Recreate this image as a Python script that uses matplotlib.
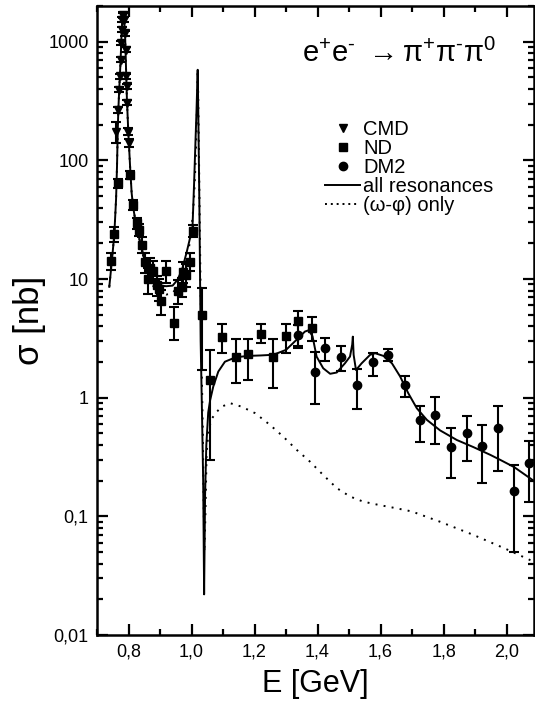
"""
e+e- -> pi+ pi- pi0 cross section with the omega / phi region and the
high-energy tail, CMD / ND / DM2 data and the model curves.

Output:
    out.png
"""

import matplotlib
matplotlib.use("Agg")
import matplotlib.pyplot as plt
import matplotlib.lines as mlines
from matplotlib.ticker import FixedLocator, MultipleLocator, NullFormatter
import numpy as np

plt.rcParams["font.family"] = ["Liberation Sans", "DejaVu Sans"]
plt.rcParams["mathtext.fontset"] = "custom"
plt.rcParams["mathtext.rm"] = "Liberation Sans"
plt.rcParams["mathtext.it"] = "Liberation Sans:italic"
plt.rcParams["mathtext.sf"] = "Liberation Sans"

# ── Data ──────────────────────────────────────────────────────────────────────

# CMD (omega peak)
cmd_E     = [0.759, 0.7677, 0.7705, 0.7725, 0.775, 0.7773, 0.779, 0.7805, 0.7815,
             0.7835, 0.7857, 0.7889, 0.7905, 0.7931, 0.7943, 0.7958, 0.7994, 0.801]
cmd_sigma = [175, 267, 394, 510, 705, 975, 1262, 1534, 1690,
             1650, 1534, 1180, 857, 510, 420, 306, 175, 140]
cmd_err   = [35, 15, 20, 25, 35, 45, 60, 70, 80,
             80, 70, 60, 45, 25, 20, 15, 12, 10]

# ND
nd_E     = [0.744, 0.754, 0.766, 0.805, 0.815, 0.826, 0.834, 0.842, 0.852, 0.861,
            0.868, 0.879, 0.889, 0.897, 0.903, 0.919, 0.944, 0.958, 0.969, 0.974,
            0.984, 0.995, 1.004, 1.034, 1.059, 1.098, 1.140, 1.180, 1.221, 1.260,
            1.300, 1.339, 1.381]
nd_sigma = [14.2, 24, 64, 76, 42, 29.6, 26, 19.4, 13.8, 10.0,
            12.4, 11.8, 8.9, 8.3, 6.5, 11.6, 4.25, 7.9, 8.6, 11.4,
            10.9, 14.0, 25.6, 5.0, 1.41, 3.24, 2.22, 2.34, 3.45, 2.22,
            3.32, 4.39, 3.86]
nd_lo    = [12.0, 20.5, 58, 70, 38, 26.5, 23, 16.5, 11.2, 7.5,
            9.8, 9.8, 7.2, 6.5, 5.0, 9.2, 3.05, 6.2, 7.0, 9.2,
            8.6, 11.8, 22.5, 1.71, 0.30, 2.37, 1.32, 1.41, 2.88, 1.20,
            2.40, 2.61, 3.0]
nd_hi    = [16.5, 27.5, 70, 82, 46, 33, 29, 22.5, 16.5, 12.5,
            15.0, 14.1, 10.6, 10.0, 8.1, 14.1, 5.8, 9.8, 10.2, 14.0,
            13.4, 16.5, 28.8, 8.4, 2.53, 4.19, 3.11, 3.11, 4.19, 3.11,
            4.19, 5.42, 4.77]

# DM2
dm2_E     = [1.339, 1.392, 1.424, 1.474, 1.524, 1.575, 1.625, 1.676,
             1.724, 1.773, 1.824, 1.874, 1.923, 1.974, 2.024, 2.072]
dm2_sigma = [3.39, 1.66, 2.61, 2.20, 1.28, 1.98, 2.30, 1.28,
             0.65, 0.716, 0.387, 0.50, 0.394, 0.553, 0.164, 0.284]
dm2_lo    = [2.75, 0.89, 2.04, 1.69, 0.80, 1.51, 2.05, 1.02,
             0.427, 0.41, 0.209, 0.293, 0.19, 0.243, 0.0497, 0.133]
dm2_hi    = [4.1, 2.45, 3.18, 2.74, 1.74, 2.40, 2.58, 1.53,
             0.853, 1.01, 0.553, 0.70, 0.59, 0.853, 0.271, 0.432]

# model: all resonances
fit_E = [0.739, 0.747, 0.755, 0.7605, 0.7635, 0.7657, 0.7677, 0.771, 0.775, 0.778,
         0.7815, 0.7835, 0.786, 0.789, 0.792, 0.795, 0.7995, 0.805, 0.810, 0.815,
         0.824, 0.832, 0.840, 0.848, 0.856, 0.865, 0.880, 0.900, 0.920, 0.940,
         0.955, 0.970, 0.985, 0.995, 1.003, 1.008, 1.012, 1.016, 1.0196, 1.022,
         1.025, 1.029, 1.033, 1.037, 1.040, 1.043, 1.047, 1.053, 1.059, 1.069,
         1.085, 1.106, 1.140, 1.180, 1.220, 1.260, 1.300, 1.339, 1.360, 1.372,
         1.384, 1.397, 1.418, 1.440, 1.461, 1.487, 1.503, 1.510, 1.512, 1.5145,
         1.522, 1.540, 1.567, 1.583, 1.609, 1.636, 1.662, 1.688, 1.715, 1.747,
         1.789, 1.842, 1.895, 1.948, 1.979, 2.024, 2.09]
fit_sigma = [8.6, 14, 24, 47, 89, 170, 267, 420, 705, 1180,
             1650, 1700, 1500, 1180, 617, 324, 170, 89, 53, 40,
             28.6, 23, 19.4, 15.5, 12.7, 10.5, 9.3, 8.8, 8.7, 8.8,
             9.8, 12, 17, 22, 27, 62, 130, 270, 580, 200,
             40, 3.0, 0.8, 0.2, 0.022, 0.15, 0.4, 0.75, 0.95, 1.24,
             1.66, 2.01, 2.19, 2.25, 2.27, 2.30, 2.53, 3.18, 3.61, 3.7,
             3.3, 2.22, 1.77, 1.59, 1.63, 1.95, 2.22, 2.8, 3.27, 2.3,
             1.71, 1.95, 2.30, 2.37, 2.25, 1.95, 1.51, 1.09, 0.815, 0.65,
             0.53, 0.44, 0.383, 0.33, 0.30, 0.26, 0.196]

# model: (omega-phi) only
wphi_E = [0.739, 0.747, 0.755, 0.7605, 0.7635, 0.7657, 0.7677, 0.771, 0.775, 0.778,
          0.7815, 0.7835, 0.786, 0.789, 0.792, 0.795, 0.7995, 0.805, 0.810, 0.815,
          0.824, 0.832, 0.840, 0.848, 0.856, 0.865, 0.880, 0.900, 0.920, 0.940,
          0.960, 0.975, 0.990, 1.000, 1.008, 1.014, 1.018, 1.0196, 1.021, 1.024,
          1.028, 1.032, 1.036, 1.039, 1.041, 1.044, 1.048, 1.055, 1.065, 1.080,
          1.096, 1.122, 1.159, 1.202, 1.249, 1.291, 1.334, 1.376, 1.418, 1.461,
          1.503, 1.545, 1.593, 1.650, 1.699, 1.789, 1.895, 2.0, 2.09]
wphi_sigma = [8.6, 14, 24, 47, 89, 170, 267, 420, 705, 1180,
              1650, 1700, 1500, 1180, 617, 324, 170, 89, 53, 40,
              28.6, 23, 19.0, 15.0, 12.2, 10.0, 8.6, 7.8, 7.4, 7.6,
              9.0, 11.5, 17, 26, 48, 115, 340, 570, 400, 90,
              12, 2.0, 0.5, 0.1, 0.05, 0.1, 0.35, 0.55, 0.67, 0.76,
              0.84, 0.90, 0.84, 0.74, 0.59, 0.47, 0.363, 0.289, 0.223, 0.173,
              0.147, 0.133, 0.125, 0.117, 0.110, 0.090, 0.0697, 0.0528, 0.041]

y_ticks  = [0.01, 0.1, 1, 10, 100, 1000]
y_labels = ["0,01", "0,1", "1", "10", "100", "1000"]
x_ticks  = [0.8, 1.0, 1.2, 1.4, 1.6, 1.8, 2.0]
x_labels = ["0,8", "1,0", "1,2", "1,4", "1,6", "1,8", "2,0"]

FG = "#000000"

# ── Figure ────────────────────────────────────────────────────────────────────

fig = plt.figure(figsize=(5.35, 7.07), dpi=100)
fig.patch.set_facecolor("white")
ax = fig.add_axes([97 / 535, 1 - 635 / 707, 437 / 535, 629 / 707])

ax.plot(wphi_E, wphi_sigma, color=FG, lw=1.4, ls=(0, (1, 3.2)), zorder=2)
ax.plot(fit_E, fit_sigma, color=FG, lw=1.4, zorder=3)

def with_bars(E, s, lo, hi, marker, ms):
    s = np.asarray(s)
    yerr = [s - np.asarray(lo), np.asarray(hi) - s]
    ax.errorbar(E, s, yerr=yerr, fmt=marker, ms=ms, color=FG, ecolor=FG,
                elinewidth=1.5, capsize=3.5, capthick=1.5, zorder=4)

cmd_s = np.asarray(cmd_sigma)
cmd_e = np.asarray(cmd_err)
with_bars(cmd_E, cmd_s, cmd_s - cmd_e, cmd_s + cmd_e, "v", 6)
with_bars(nd_E, nd_sigma, nd_lo, nd_hi, "s", 5.5)
with_bars(dm2_E, dm2_sigma, dm2_lo, dm2_hi, "o", 6)

# ── Axes ──────────────────────────────────────────────────────────────────────

ax.set_yscale("log")
ax.set_xlim(0.7, 2.087)
ax.set_ylim(0.01, 2000)

ax.xaxis.set_major_locator(FixedLocator(x_ticks))
ax.set_xticklabels(x_labels)
ax.xaxis.set_minor_locator(MultipleLocator(0.1))
ax.yaxis.set_major_locator(FixedLocator(y_ticks))
ax.set_yticklabels(y_labels)
minor_y = [m * 10.0 ** d for d in range(-2, 4) for m in range(2, 10)]
ax.yaxis.set_minor_locator(FixedLocator(minor_y))
ax.yaxis.set_minor_formatter(NullFormatter())

ax.tick_params(which="both", direction="in", top=True, right=True,
               width=1.6, colors=FG, labelsize=13)
ax.tick_params(which="major", length=8, pad=6)
ax.tick_params(which="minor", length=4.5)
for spine in ax.spines.values():
    spine.set_linewidth(1.8)

ax.set_xlabel("E [GeV]", fontsize=22, labelpad=6)
ax.set_ylabel("σ [nb]", fontsize=25, labelpad=2)

# ── Reaction label & legend ──────────────────────────────────────────────────

ax.text(0.469, 0.911,
        "$\\mathrm{e^{+}e^{\u2010}}$ $\\rightarrow\\mathrm{\\pi^{+}\\pi^{\u2010}\\pi^{0}}$",
        transform=ax.transAxes, fontsize=21, va="baseline", ha="left")

handles = [
    mlines.Line2D([], [], color=FG, marker="v", ls="None", ms=6, label="CMD"),
    mlines.Line2D([], [], color=FG, marker="s", ls="None", ms=5.5, label="ND"),
    mlines.Line2D([], [], color=FG, marker="o", ls="None", ms=6, label="DM2"),
    mlines.Line2D([], [], color=FG, lw=1.4, label="all resonances"),
    mlines.Line2D([], [], color=FG, lw=1.4, ls=(0, (1, 2)), label="(ω-φ) only"),
]
ax.legend(handles=handles, loc="upper left", bbox_to_anchor=(0.522, 0.818),
          frameon=False, fontsize=14.5, handlelength=1.75, handletextpad=0.15,
          labelspacing=0.0, borderpad=0, borderaxespad=0)

fig.savefig("out.png", dpi=100, facecolor="white")
plt.close()
